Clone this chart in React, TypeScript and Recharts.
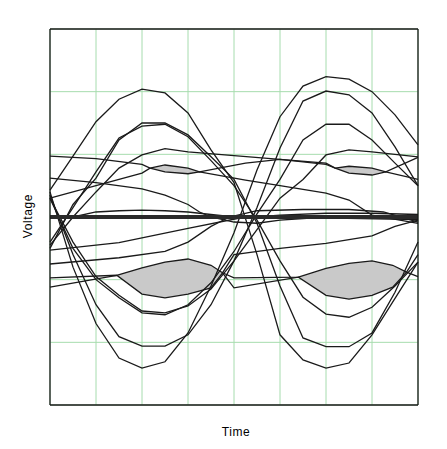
import { ComposedChart, Line, Area, XAxis, YAxis, CartesianGrid, ReferenceLine } from 'recharts';

// sample instants (half a grid division each)
const time = [0, 1, 2, 3, 4, 5, 6, 7, 8, 9, 10, 11, 12, 13, 14, 15, 16];
const timeTicks = [0, 2, 4, 6, 8, 10, 12, 14, 16];
const voltTicks = [-3, -2, -1, 0, 1, 2, 3];

// high in eye 1 -> low in eye 2
const traceA = [0.43, 0.97, 1.52, 1.88, 2.04, 1.98, 1.66, 1.07, 0.55, -0.6, -1.88, -2.28, -2.41, -2.33, -1.88, -1.3, -0.72];
const traceB = [-0.5, 0.2, 0.62, 1.23, 1.5, 1.5, 1.31, 0.96, 0.6, -0.1, -1.1, -1.93, -2.07, -2.07, -1.85, -1.2, -0.4];
const traceC = [-0.4, 0.15, 0.72, 1.26, 1.45, 1.48, 1.28, 0.9, 0.5, -0.05, -0.7, -1.28, -1.55, -1.6, -1.44, -1.1, -0.72];
// low in eye 1 -> high in eye 2
const traceE = [0.4, -0.8, -1.7, -2.25, -2.41, -2.31, -1.85, -1.1, -0.25, 0.75, 1.6, 2.09, 2.24, 2.2, 2.0, 1.63, 1.15];
const traceF = [0.35, -0.6, -1.4, -1.91, -2.06, -2.06, -1.88, -1.4, -0.7, 0.15, 1.1, 1.85, 2.01, 1.95, 1.66, 1.12, 0.5];
const traceG = [0.3, -0.5, -1.0, -1.29, -1.53, -1.56, -1.4, -1.05, -0.55, 0.05, 0.6, 1.23, 1.48, 1.48, 1.23, 0.86, 0.5];
const traceH = [0.3, -0.4, -0.95, -1.25, -1.5, -1.53, -1.42, -1.15, -0.7, -0.2, 0.3, 0.6, 0.99, 1.07, 1.04, 1.0, 0.96];

// slow traces, [time, volts]
const traceD = [[0, -0.45], [1, 0.0], [2, 0.4], [3, 0.78], [4, 0.99], [5, 1.09], [6, 1.04], [8, 0.98], [10, 0.92], [12, 0.84], [12.4, 0.78], [13, 0.81], [14, 0.78], [14.6, 0.72], [16, 0.95]];
const slowD1 = [[0, 0.97], [2, 0.93], [4, 0.84], [4.35, 0.78], [5, 0.72], [6, 0.69], [6.5, 0.72], [8.5, 0.59], [10, 0.5], [12, 0.38], [13, 0.27], [14, 0.03], [16, -0.1]];
const slowR1 = [[0, 0.3], [2, 0.5], [4, 0.7], [4.35, 0.78], [5, 0.83], [6, 0.78], [6.5, 0.72], [8.5, 0.86], [10, 0.92], [12, 0.86], [12.4, 0.78], [13, 0.7], [14, 0.67], [14.6, 0.72], [16, 0.6]];
const slowS1 = [[0, 0.62], [2, 0.55], [4, 0.45], [5, 0.35], [6, 0.2], [6.5, 0.08], [7, 0.0], [8, -0.08], [9, -0.1], [10, -0.05], [12, 0.0], [16, 0.0]];
const slowS2 = [[0, -0.53], [3, -0.41], [6, -0.18], [8.2, -0.02], [10, 0.03], [12, 0.06], [14, 0.06], [16, 0.04]];
const slowS5 = [[0, -0.75], [3, -0.65], [5, -0.55], [6, -0.4], [7, -0.15], [7.8, 0.0], [9, 0.1], [11, 0.12], [13, 0.12], [14.5, 0.08], [16, -0.08]];
const slowS3a = [[0, -0.97], [2.9, -0.93], [4, -1.23], [5, -1.29], [6, -1.23], [7, -1.13], [7.5, -0.89], [8, -0.6], [10, -0.5], [12, -0.42], [14, -0.3], [15, -0.15], [16, -0.05]];
const slowS3b = [[0, -1.12], [2.9, -0.93], [4, -0.81], [5, -0.72], [6, -0.67], [7, -0.77], [7.5, -0.89], [8, -0.97], [10.8, -0.96], [12, -0.82], [13, -0.74], [14, -0.7], [14.9, -0.77], [15.5, -0.88], [16, -0.95]];
const slowS4 = [[7.5, -0.89], [8, -1.13], [10.8, -0.96], [12, -1.25], [13, -1.31], [14, -1.25], [14.9, -1.12], [15.5, -0.88], [16, -0.6]];
const bump1 = [[1, 0.0], [2, 0.08], [3, 0.1], [4, 0.11], [5, 0.1], [6, 0.08], [7, 0.04], [8, 0.0]];
const band = [[0, 0.0], [16, 0.0]];
const band2 = [[0, -0.02], [8, 0.01], [16, -0.04]];

// shaded lenses: top edge and bottom edge
const lens1Top = [[4.35, 0.78], [5, 0.83], [6, 0.78], [6.5, 0.72]];
const lens1Bot = [[4.35, 0.78], [5, 0.72], [6, 0.69], [6.5, 0.72]];
const lens2Top = [[12.4, 0.78], [13, 0.81], [14, 0.78], [14.6, 0.72]];
const lens2Bot = [[12.4, 0.78], [13, 0.7], [14, 0.67], [14.6, 0.72]];
const lens3Top = [[2.9, -0.93], [4, -0.81], [5, -0.72], [6, -0.67], [7, -0.77], [7.5, -0.89]];
const lens3Bot = [[2.9, -0.93], [4, -1.23], [5, -1.29], [6, -1.23], [7, -1.13], [7.5, -0.89]];
const lens4Top = [[10.8, -0.96], [12, -0.82], [13, -0.74], [14, -0.7], [14.9, -0.77], [15.5, -0.88]];
const lens4Bot = [[10.8, -0.96], [12, -1.25], [13, -1.31], [14, -1.25], [14.9, -1.12], [15.5, -0.88]];

const fromVals = (vals: number[]) => vals.map((v, i) => ({ t: time[i], v }));
const fromPairs = (pairs: number[][]) => pairs.map(([t, v]) => ({ t, v }));
const lens = (top: number[][], bot: number[][]) =>
    top.map(([t, hi], i) => ({ t, range: [bot[i][1], hi] }));

const valTraces = [traceA, traceB, traceC, traceE, traceF, traceG, traceH];
const pairTraces = [traceD, slowD1, slowR1, slowS1, slowS2, slowS5, slowS3a, slowS3b, slowS4, bump1, band2];
const lenses = [lens(lens1Top, lens1Bot), lens(lens2Top, lens2Bot), lens(lens3Top, lens3Bot), lens(lens4Top, lens4Bot)];

const ink = '#1a1a1a';

export default function App() {
    return (
        <div style={{ position: 'relative', width: 431, height: 441, fontFamily: '"Liberation Sans", Arial, sans-serif' }}>
            <ComposedChart width={431} height={441} margin={{ top: 21, right: 21, bottom: 44, left: 42 }}>
                <XAxis type="number" dataKey="t" domain={[0, 16]} ticks={timeTicks} hide />
                <YAxis type="number" domain={[-3, 3]} ticks={voltTicks} hide />
                <CartesianGrid stroke="#a6dcae" strokeWidth={1} />
                {lenses.map((d, i) => (
                    <Area key={`lens-${i}`} data={d} dataKey="range" type="linear" stroke="none"
                        fill="#c9c9c9" fillOpacity={1} isAnimationActive={false} />
                ))}
                {valTraces.map((vals, i) => (
                    <Line key={`v-${i}`} data={fromVals(vals)} dataKey="v" type="linear" stroke={ink}
                        strokeWidth={1.3} dot={false} isAnimationActive={false} />
                ))}
                {pairTraces.map((p, i) => (
                    <Line key={`p-${i}`} data={fromPairs(p)} dataKey="v" type="linear" stroke={ink}
                        strokeWidth={1.3} dot={false} isAnimationActive={false} />
                ))}
                <Line data={fromPairs(band)} dataKey="v" type="linear" stroke="#2a2a2a"
                    strokeWidth={4} dot={false} isAnimationActive={false} />
                <ReferenceLine x={0} stroke={ink} strokeWidth={1.3} />
                <ReferenceLine x={16} stroke={ink} strokeWidth={1.3} />
                <ReferenceLine y={3} stroke={ink} strokeWidth={1.3} />
                <ReferenceLine y={-3} stroke={ink} strokeWidth={1.3} />
            </ComposedChart>
            <div style={{ position: 'absolute', left: 28 - 8 - 30, top: 209 - 8, width: 60, textAlign: 'center', fontSize: 12, letterSpacing: 0.6, transform: 'rotate(-90deg)' }}>
                Voltage
            </div>
            <div style={{ position: 'absolute', left: 236 - 8 - 30, top: 425 - 8, width: 60, textAlign: 'center', fontSize: 12, letterSpacing: 0.6 }}>
                Time
            </div>
        </div>
    );
}
